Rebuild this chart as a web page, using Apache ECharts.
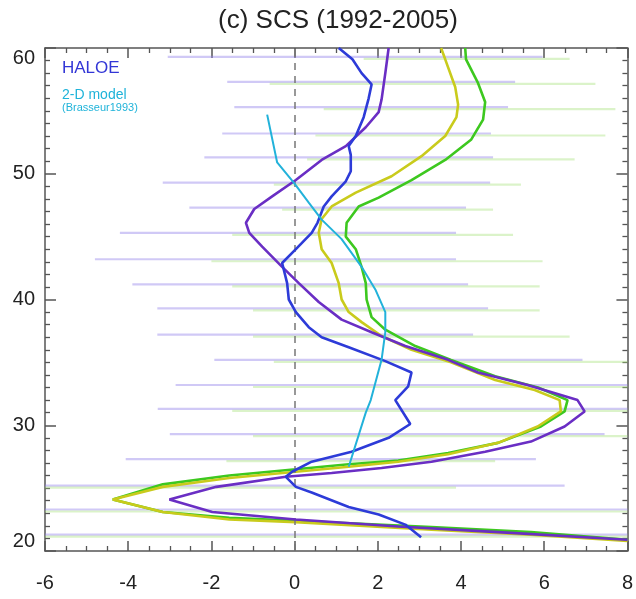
<!DOCTYPE html>
<html>
<head>
<meta charset="utf-8">
<script src="https://cdn.jsdelivr.net/npm/echarts@6/dist/echarts.min.js"></script>
<style>html,body{margin:0;padding:0;background:#fff}#c{width:636px;height:599px}</style>
</head>
<body>
<div id="c"></div>
<script>
// ---- data ----
var xTicks = [-6, -4, -2, 0, 2, 4, 6, 8];
var yTicks = [20, 30, 40, 50, 60];

var haloeAlt = [60.0, 59.1, 58.0, 57.1, 56.0, 54.5, 53.0, 52.2, 51.5, 50.2, 49.4, 48.2, 47.4, 46.1, 45.3, 44.0, 42.9, 41.3, 40.0, 39.0, 37.8, 37.0, 36.2, 35.1, 34.2, 33.1, 32.0, 30.1, 29.0, 27.9, 27.1, 26.3, 25.9, 25.1, 24.65, 23.5, 22.9, 22.1, 21.1];
var haloeVal = [1.06, 1.39, 1.61, 1.85, 1.78, 1.66, 1.47, 1.30, 1.35, 1.35, 1.23, 0.89, 0.70, 0.55, 0.41, 0.03, -0.30, -0.18, -0.14, 0.03, 0.34, 0.65, 1.30, 2.18, 2.81, 2.73, 2.42, 2.78, 2.26, 1.37, 0.41, -0.06, -0.21, 0.03, 0.41, 1.30, 2.02, 2.66, 3.04];

var purpleAlt = [60.0, 58.0, 55.9, 54.9, 53.7, 52.2, 51.1, 49.5, 48.2, 47.2, 46.1, 45.3, 44.2, 42.6, 41.3, 39.8, 38.4, 37.4, 36.3, 35.2, 34.2, 33.2, 32.0, 31.1, 29.9, 28.7, 27.9, 27.1, 26.6, 26.2, 25.9, 25.1, 24.1, 23.1, 22.5, 21.95, 21.5, 20.9];
var purpleVal = [2.26, 2.18, 2.09, 2.02, 1.71, 1.23, 0.65, 0.03, -0.54, -0.97, -1.17, -1.09, -0.78, -0.30, 0.10, 0.58, 1.13, 1.85, 2.66, 3.69, 4.41, 5.60, 6.80, 6.97, 6.49, 5.68, 4.58, 3.29, 2.09, 0.89, -0.21, -1.88, -3.01, -1.98, 0.03, 2.49, 4.89, 8.0];

var yellowAlt = [60.0, 59.1, 56.9, 55.5, 54.5, 53.0, 51.4, 49.8, 48.5, 47.4, 46.4, 45.3, 44.0, 42.9, 41.3, 40.0, 39.0, 38.2, 37.1, 36.0, 35.0, 33.6, 32.8, 32.0, 31.1, 29.9, 28.6, 27.7, 27.1, 26.7, 26.3, 25.8, 25.1, 24.1, 23.1, 22.5, 22.3, 21.7, 21.3, 20.8];
var yellowVal = [3.52, 3.62, 3.86, 3.93, 3.89, 3.62, 3.05, 2.33, 1.47, 0.89, 0.65, 0.58, 0.65, 0.89, 1.06, 1.13, 1.30, 1.61, 2.09, 2.81, 3.76, 4.82, 5.77, 6.37, 6.40, 5.84, 4.89, 3.69, 2.49, 1.30, 0.03, -1.57, -3.17, -4.37, -3.17, -1.57, 0.03, 3.29, 5.68, 8.0];

var greenAlt = [60.0, 59.1, 57.2, 55.7, 54.3, 52.7, 51.1, 49.5, 48.1, 47.4, 46.1, 45.0, 44.0, 42.6, 41.3, 40.0, 38.6, 37.6, 36.3, 35.2, 33.9, 33.0, 32.0, 31.1, 29.9, 28.6, 27.8, 27.2, 26.9, 26.5, 26.0, 25.3, 24.1, 23.1, 22.65, 22.4, 21.9, 21.5, 20.9];
var greenVal = [4.10, 4.12, 4.41, 4.58, 4.53, 4.24, 3.62, 2.81, 2.02, 1.54, 1.25, 1.23, 1.47, 1.61, 1.71, 1.73, 1.85, 2.18, 2.90, 3.76, 4.82, 5.85, 6.56, 6.49, 5.92, 4.89, 3.69, 2.49, 1.30, 0.03, -1.57, -3.17, -4.37, -3.17, -1.57, 0.03, 3.29, 5.68, 8.0];

var modelAlt = [54.7, 50.9, 49.3, 47.7, 46.35, 44.8, 42.6, 40.8, 39.0, 37.4, 35.2, 32.0, 31.0, 26.7];
var modelVal = [-0.66, -0.42, -0.02, 0.34, 0.65, 1.13, 1.61, 1.94, 2.18, 2.18, 2.09, 1.83, 1.71, 1.30];

// spread bars (altitude, left, right)
var barAlt = [59.3, 57.3, 55.3, 53.2, 51.3, 49.3, 47.3, 45.3, 43.2, 41.2, 39.3, 37.2, 35.2, 33.2, 31.3, 29.3, 27.3, 25.2, 23.3, 21.3];
var purpleLo = [-3.05, -1.62, -1.45, -1.74, -2.17, -3.17, -2.53, -4.2, -4.8, -3.9, -3.3, -3.3, -1.93, -2.86, -3.29, -3.0, -4.06, -6, -6, -6];
var purpleHi = [5.96, 5.30, 5.13, 4.72, 4.77, 4.70, 4.12, 3.88, 3.88, 4.17, 4.65, 4.29, 6.92, 8, 8, 7.45, 5.8, 6.49, 8, 8];
var greenLo = [1.66, -0.6, 0.7, 0.5, 0.3, -0.5, -0.3, -1.5, -2.0, -1.5, -1.0, -1.0, -0.5, -1.0, -1.5, -1.0, -1.64, -6, -6, -6];
var greenHi = [6.61, 7.23, 7.71, 7.47, 6.73, 5.44, 4.77, 5.25, 5.96, 5.89, 5.89, 6.61, 8, 8, 8, 8, 4.82, 3.88, 8, 8];

function zip(alt, val) { return alt.map(function (a, i) { return [val[i], a]; }); }
function bars(lo, hi) { return barAlt.map(function (a, i) { return [a, lo[i], hi[i]]; }); }

function barSeries(data, color, off) {
  return {
    type: 'custom',
    data: data,
    encode: { x: [1, 2], y: 0 },
    z: 1,
    silent: true,
    renderItem: function (params, api) {
      var a = api.value(0);
      var p1 = api.coord([api.value(1), a]);
      var p2 = api.coord([api.value(2), a]);
      return {
        type: 'line',
        shape: { x1: p1[0], y1: p1[1] + off, x2: p2[0], y2: p2[1] + off },
        style: { stroke: color, lineWidth: 2.2 }
      };
    }
  };
}

function lineSeries(data, color, w, z) {
  return {
    type: 'line', data: data, showSymbol: false, symbol: 'none', smooth: false, clip: true,
    lineStyle: { color: color, width: w }, z: z, silent: true
  };
}

var axisCol = '#555555';
var chart = echarts.init(document.getElementById('c'), null, { renderer: 'canvas' });
function xAx(pos, showLabel) {
  return {
    type: 'value', min: -6, max: 8, interval: 2, position: pos,
    axisLine: { show: true, onZero: false, lineStyle: { color: axisCol, width: 1.5 } },
    axisTick: { show: true, inside: true, length: 10, lineStyle: { color: axisCol, width: 1.5 } },
    minorTick: { show: true, splitNumber: 4, length: 5, lineStyle: { color: axisCol, width: 1.3 } },
    splitLine: { show: false }, minorSplitLine: { show: false },
    axisLabel: { show: showLabel, fontSize: 20, color: '#222', margin: 22, fontFamily: 'Liberation Sans' }
  };
}
function yAx(pos, showLabel) {
  return {
    type: 'value', min: 20, max: 60, interval: 10, position: pos,
    axisLine: { show: true, onZero: false, lineStyle: { color: axisCol, width: 1.5 } },
    axisTick: { show: true, inside: true, length: 11, lineStyle: { color: axisCol, width: 1.5 } },
    minorTick: { show: true, splitNumber: 10, length: 5, lineStyle: { color: axisCol, width: 1.3 } },
    splitLine: { show: false }, minorSplitLine: { show: false },
    axisLabel: { show: showLabel, fontSize: 20, color: '#222', margin: 10, fontFamily: 'Liberation Sans',
      verticalAlignMaxLabel: 'top', verticalAlignMinLabel: 'bottom' }
  };
}

var option = {
  animation: false,
  backgroundColor: '#ffffff',
  grid: { left: 45, right: 6, top: 48, bottom: 48, containLabel: false },
  xAxis: [xAx('bottom', true), xAx('top', false)],
  yAxis: [yAx('left', true), yAx('right', false)],
  graphic: [
    { type: 'text', x: 338, y: 21, style: { text: '(c) SCS (1992-2005)', font: '26px "Liberation Sans", Arial, sans-serif', fill: '#222', textAlign: 'center', textVerticalAlign: 'middle' }, z: 10 },
    { type: 'text', x: 62, y: 68, style: { text: 'HALOE', font: '17px "Liberation Sans", Arial, sans-serif', fill: '#3236d6', textVerticalAlign: 'middle' }, z: 10 },
    { type: 'text', x: 62, y: 95, style: { text: '2-D model', font: '14px "Liberation Sans", Arial, sans-serif', fill: '#1fb3d9', textVerticalAlign: 'middle' }, z: 10 },
    { type: 'text', x: 62, y: 108, style: { text: '(Brasseur1993)', font: '11px "Liberation Sans", Arial, sans-serif', fill: '#1fb3d9', textVerticalAlign: 'middle' }, z: 10 }
  ],
  series: [
    barSeries(bars(purpleLo, purpleHi), 'rgba(150,135,235,0.45)', 0),
    barSeries(bars(greenLo, greenHi), 'rgba(165,225,120,0.40)', 2),
    Object.assign(lineSeries(zip(greenAlt, greenVal), '#3dc81f', 2.6, 3), {
      markLine: { silent: true, symbol: 'none', label: { show: false },
        lineStyle: { color: '#777', type: [7, 6], width: 1.5 }, data: [{ xAxis: 0 }] }
    }),
    lineSeries(zip(yellowAlt, yellowVal), '#c9cb1c', 2.6, 4),
    lineSeries(zip(purpleAlt, purpleVal), '#6a2ec4', 2.6, 5),
    lineSeries(zip(haloeAlt, haloeVal), '#2d3bd8', 2.6, 6),
    lineSeries(zip(modelAlt, modelVal), '#22b2da', 2.0, 7)
  ]
};
chart.setOption(option);
</script>
</body>
</html>
